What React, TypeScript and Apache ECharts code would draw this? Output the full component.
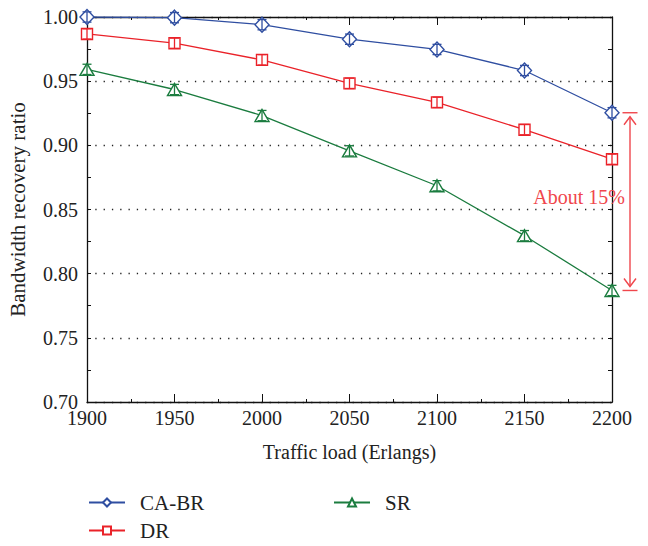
import React, { useEffect, useRef } from "react";
import * as echarts from "echarts";

const loads = [1900, 1950, 2000, 2050, 2100, 2150, 2200];
const caBr = [1.0, 0.9995, 0.994, 0.9827, 0.9747, 0.9583, 0.9254];
const dr = [0.9868, 0.9796, 0.9666, 0.9483, 0.9335, 0.9122, 0.8892];
const sr = [0.9592, 0.9435, 0.9232, 0.8957, 0.8685, 0.8296, 0.7869];
const caBrErr = [0.004, 0.004, 0.004, 0.004, 0.004, 0.004, 0.004];
const drErr = [0.004, 0.004, 0.004, 0.004, 0.004, 0.004, 0.004];
const srErr = [0.004, 0.004, 0.004, 0.004, 0.004, 0.004, 0.004];
const seriesNames = ["CA-BR", "DR", "SR"];
const annotationText = "About 15%";

const BLUE = "#2f4ea1";
const RED = "#ea2229";
const GREEN = "#1b7c3f";
const ANN = "#f0464c";
const FONT = "'Liberation Serif', 'DejaVu Serif', serif";

function errBarSeries(name: string, vals: number[], errs: number[], color: string) {
  return {
    name: name + " err",
    type: "custom",
    z: 4,
    data: loads.map((x, i) => [x, vals[i] - errs[i], vals[i] + errs[i]]),
    encode: { x: 0, y: [1, 2] },
    renderItem: (params: any, api: any) => {
      const x = api.value(0);
      const p1 = api.coord([x, api.value(1)]);
      const p2 = api.coord([x, api.value(2)]);
      const w = 4.5;
      const st = { stroke: color, lineWidth: 1.3 };
      return {
        type: "group",
        children: [
          { type: "line", shape: { x1: p1[0], y1: p1[1], x2: p2[0], y2: p2[1] }, style: st },
          { type: "line", shape: { x1: p1[0] - w, y1: p1[1], x2: p1[0] + w, y2: p1[1] }, style: st },
          { type: "line", shape: { x1: p2[0] - w, y1: p2[1], x2: p2[0] + w, y2: p2[1] }, style: st },
        ],
      };
    },
  };
}

function lineSeries(name: string, vals: number[], color: string, symbol: string, size: any) {
  return {
    name,
    type: "line",
    z: 3,
    data: loads.map((x, i) => [x, vals[i]]),
    symbol,
    symbolSize: size,
    showSymbol: true,
    lineStyle: { color, width: 1.3 },
    itemStyle: { color: "#ffffff", borderColor: color, borderWidth: 1.4 },
  };
}

const legendText = { fontFamily: FONT, fontSize: 21, color: "#222", padding: [0, 0, 0, 10] };

export default function App() {
  const ref = useRef<HTMLDivElement>(null);
  useEffect(() => {
    if (!ref.current) return;
    const chart = echarts.init(ref.current, undefined, { renderer: "svg" });
    const last = loads.length - 1;
    chart.setOption({
      animation: false,
      backgroundColor: "#ffffff",
      textStyle: { fontFamily: FONT },
      grid: { left: 87, right: 36, top: 17, bottom: 144, containLabel: false, outerBoundsMode: "none" },
      legend: [
        { data: [seriesNames[0]], left: 83, top: 487, itemWidth: 36, itemHeight: 10, textStyle: legendText, selectedMode: false },
        { data: [seriesNames[1]], left: 83, top: 515, itemWidth: 36, itemHeight: 10, textStyle: legendText, selectedMode: false },
        { data: [seriesNames[2]], left: 328, top: 487, itemWidth: 36, itemHeight: 10, textStyle: legendText, selectedMode: false },
      ],
      xAxis: [
        {
          type: "value", min: 1900, max: 2200, interval: 50, position: "bottom",
          name: "Traffic load (Erlangs)", nameLocation: "middle", nameGap: 40,
          nameTextStyle: { fontFamily: FONT, fontSize: 20, color: "#222" },
          axisLine: { show: true, lineStyle: { color: "#111", width: 1.3 } },
          axisTick: { show: true, inside: true, length: 8, lineStyle: { color: "#111" } },
          minorTick: { show: true, splitNumber: 2, length: 3, lineStyle: { color: "#111" } },
          axisLabel: { fontFamily: FONT, fontSize: 20, color: "#222", margin: 6, formatter: (v: number) => String(v) },
          splitLine: { show: false },
        },
        {
          type: "value", min: 1900, max: 2200, interval: 50, position: "top",
          axisLine: { show: true, lineStyle: { color: "#111", width: 1.3 } },
          axisTick: { show: true, inside: true, length: 8, lineStyle: { color: "#111" } },
          minorTick: { show: true, splitNumber: 2, length: 3, lineStyle: { color: "#111" } },
          axisLabel: { show: false },
          splitLine: { show: false },
        },
      ],
      yAxis: [
        {
          type: "value", min: 0.7, max: 1.0, interval: 0.05, position: "left",
          name: "Bandwidth recovery ratio", nameLocation: "middle", nameGap: 59,
          nameTextStyle: { fontFamily: FONT, fontSize: 21, color: "#222" },
          axisLine: { show: true, lineStyle: { color: "#111", width: 1.3 } },
          axisTick: { show: true, inside: true, length: 4, lineStyle: { color: "#111" } },
          minorTick: { show: true, splitNumber: 2, length: 4, lineStyle: { color: "#111" } },
          axisLabel: {
            fontFamily: FONT, fontSize: 20, color: "#222", margin: 9,
            formatter: (v: number) => v.toFixed(2),
          },
          splitLine: { show: true, lineStyle: { color: "#222", type: [1.3, 7], width: 1.3 } },
        },
        {
          type: "value", min: 0.7, max: 1.0, interval: 0.05, position: "right",
          axisLine: { show: true, lineStyle: { color: "#111", width: 1.3 } },
          axisTick: { show: true, inside: true, length: 4, lineStyle: { color: "#111" } },
          minorTick: { show: true, splitNumber: 2, length: 4, lineStyle: { color: "#111" } },
          axisLabel: { show: false },
          splitLine: { show: false },
        },
      ],
      series: [
        lineSeries(seriesNames[0], caBr, BLUE, "diamond", [14, 15]),
        lineSeries(seriesNames[1], dr, RED, "rect", 11),
        lineSeries(seriesNames[2], sr, GREEN, "triangle", [14, 12]),
        errBarSeries(seriesNames[0], caBr, caBrErr, BLUE),
        errBarSeries(seriesNames[1], dr, drErr, RED),
        errBarSeries(seriesNames[2], sr, srErr, GREEN),
        {
          name: "annotation",
          type: "custom",
          z: 5,
          clip: false,
          data: [[loads[last], caBr[last], sr[last]]],
          encode: { x: 0, y: [1, 2] },
          renderItem: (params: any, api: any) => {
            const top = api.coord([api.value(0), api.value(1)]);
            const bot = api.coord([api.value(0), api.value(2)]);
            const ax = top[0] + 18;
            const st = { stroke: ANN, lineWidth: 1.4, fill: "none" };
            const capW = 7.5;
            const g = 4;
            return {
              type: "group",
              children: [
                { type: "line", shape: { x1: ax - capW, y1: top[1], x2: ax + capW, y2: top[1] }, style: st },
                { type: "line", shape: { x1: ax - capW, y1: bot[1], x2: ax + capW, y2: bot[1] }, style: st },
                { type: "line", shape: { x1: ax, y1: top[1] + g, x2: ax, y2: bot[1] - g }, style: st },
                { type: "polyline", shape: { points: [[ax - 6, top[1] + g + 8], [ax, top[1] + g], [ax + 6, top[1] + g + 8]] }, style: st },
                { type: "polyline", shape: { points: [[ax - 6, bot[1] - g - 8], [ax, bot[1] - g], [ax + 6, bot[1] - g - 8]] }, style: st },
                {
                  type: "text",
                  style: {
                    text: annotationText, x: ax - 5, y: (top[1] + bot[1]) / 2 - 5,
                    align: "right", verticalAlign: "middle", fill: ANN,
                    font: `20px ${FONT}`,
                  },
                },
              ],
            };
          },
        },
      ],
    });
    return () => chart.dispose();
  }, []);
  return <div ref={ref} style={{ width: 648, height: 546, position: "absolute", left: 0, top: 0 }} />;
}
